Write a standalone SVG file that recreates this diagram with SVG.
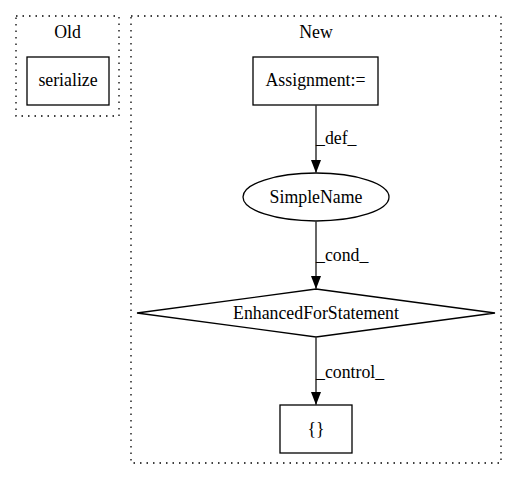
<svg xmlns="http://www.w3.org/2000/svg" width="517" height="480" viewBox="0 0 517 480">
<style>
text{font-family:"Liberation Serif","Times New Roman",serif;font-size:17.8px;fill:#000;text-anchor:middle}
.cl{fill:none;stroke:#000;stroke-dasharray:1.5,5;stroke-width:1.3}
.n{fill:#fff;stroke:#000;stroke-width:1.3}
.e{fill:none;stroke:#333;stroke-width:1.5}
.lbl{text-anchor:start}
</style>
<defs>
<marker id="ah" markerWidth="13" markerHeight="10" refX="13" refY="5" orient="auto" markerUnits="userSpaceOnUse" viewBox="0 0 13 10">
<path d="M0,0 L13,5 L0,10 Z" fill="#000"/>
</marker>
</defs>
<rect width="517" height="480" fill="#fff"/>
<g id="cluster_old">
<rect class="cl" x="16" y="16" width="103" height="100"/>
<text x="67.5" y="38">Old</text>
</g>
<g id="cluster_new">
<rect class="cl" x="131" y="16" width="370" height="447"/>
<text x="316" y="38">New</text>
</g>
<g id="serialize">
<rect class="n" x="27" y="57" width="82" height="48"/>
<text x="68" y="86">serialize</text>
</g>
<g id="assignment">
<rect class="n" x="253" y="57" width="125" height="48"/>
<text x="315.5" y="86">Assignment:=</text>
</g>
<g id="simplename">
<ellipse class="n" cx="316" cy="197" rx="73" ry="24"/>
<text x="316" y="203">SimpleName</text>
</g>
<g id="enhancedfor">
<polygon class="n" points="316,289 495,313 316,337 137,313"/>
<text x="316" y="318.5">EnhancedForStatement</text>
</g>
<g id="block">
<rect class="n" x="280" y="405" width="72" height="48"/>
<text x="316" y="435">{}</text>
</g>
<g id="edges">
<line class="e" x1="316" y1="105" x2="316" y2="173" marker-end="url(#ah)"/>
<text class="lbl" x="316" y="144">_def_</text>
<line class="e" x1="316" y1="221" x2="316" y2="289" marker-end="url(#ah)"/>
<text class="lbl" x="316" y="261">_cond_</text>
<line class="e" x1="316" y1="337" x2="316" y2="405" marker-end="url(#ah)"/>
<text class="lbl" x="316" y="378">_control_</text>
</g>
</svg>
